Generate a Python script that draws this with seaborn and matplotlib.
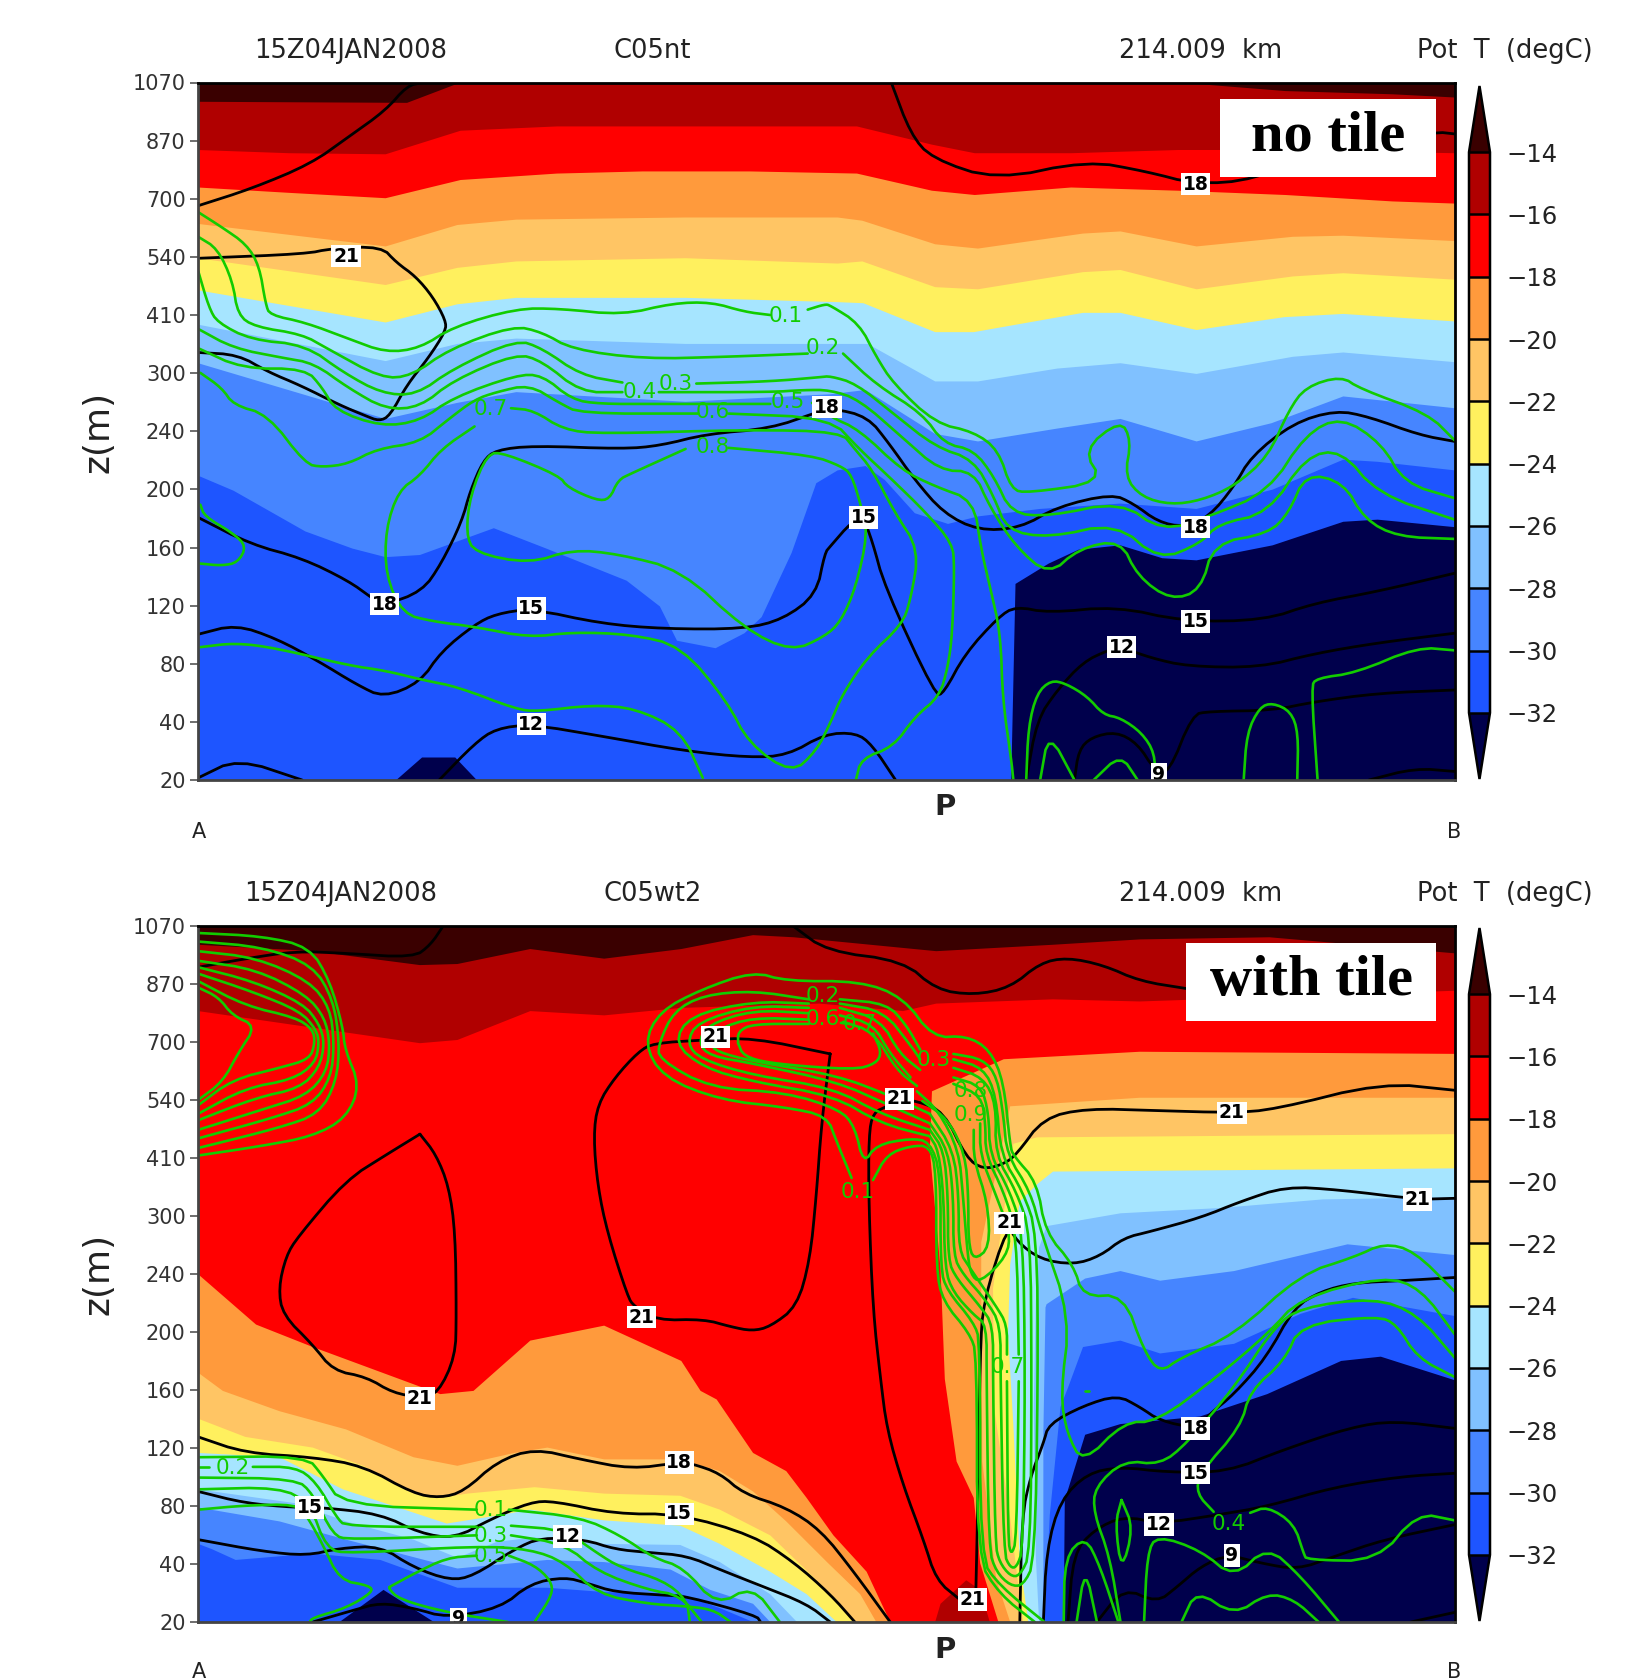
"""
Cross sections of potential temperature (filled), wind speed contours (black)
and cloud water (green) along A-B, without and with the tile scheme.
s = distance along the section, eta = stretched height coordinate.
"""

import matplotlib
matplotlib.use("Agg")
import matplotlib.pyplot as plt
from matplotlib.cm import ScalarMappable
from matplotlib.colors import BoundaryNorm, ListedColormap
from matplotlib.patches import Rectangle
import pandas as pd
import seaborn as sns

sns.set_style("white")

S_MAX = 1173
ETA_MAX = 651
LEVEL_STEP = 54.25

z_labels = ["20", "40", "80", "120", "160", "200", "240", "300", "410", "540", "700", "870", "1070"]
temp_levels = [-32, -30, -28, -26, -24, -22, -20, -18, -16, -14]
temp_colors = ["#00004c", "#1e55ff", "#4685ff", "#80c1ff", "#a6e5ff", "#fff05e",
               "#ffc564", "#ff9a3c", "#ff0000", "#b00000", "#3a0000"]

# ---- upper panel: isotherm heights
nt_m14 = [(0,633),(195,632),(245,651),(915,651),(1015,643),(1115,640),(1173,637)]
nt_m16 = [(0,588),(85,585),(175,584),(245,606),(335,610),(415,610),(515,610),(615,610),(685,593),(725,585),(815,585),(915,588),(1015,588),(1173,585)]
nt_m18 = [(0,553),(85,548),(175,543),(245,560),(335,566),(415,568),(515,568),(615,566),(685,550),(725,546),(815,553),(915,550),(1015,546),(1115,540),(1173,538)]
nt_m20 = [(0,519),(175,498),(242,518),(297,523),(455,525),(597,525),(620,522),(688,500),(728,496),(826,510),(861,512),(932,498),(1022,507),(1069,508),(1173,503)]
nt_m22 = [(0,487),(175,462),(242,478),(297,484),(455,487),(597,482),(620,484),(688,460),(728,458),(826,474),(861,476),(932,458),(1022,470),(1069,473),(1173,467)]
nt_m24 = [(0,457),(175,427),(242,444),(297,450),(455,450),(597,446),(621,445),(688,418),(724,418),(826,436),(861,436),(932,420),(1014,432),(1069,435),(1173,428)]
nt_m26 = [(0,425),(175,391),(242,407),(297,412),(455,407),(590,407),(625,407),(688,372),(728,372),(802,384),(861,389),(932,379),(1022,395),(1069,399),(1173,390)]
nt_m28 = [(0,389),(175,337),(242,352),(297,362),(455,353),(590,360),(623,364),(688,323),(728,316),(802,328),(861,337),(932,316),(1002,333),(1069,358),(1173,347)]
nt_m30 = [(0,284),(33,270),(100,232),(144,216),(175,208),(207,210),(276,235),(325,216),(400,186),(431,162),(447,130),(483,123),(510,137),(526,152),(554,212),(577,277),(597,289),(623,293),(641,280),(669,249),(700,239),(728,246),(786,253),(861,258),(932,253),(1003,271),(1069,299),(1101,297),(1173,289)]
nt_m32_a = [(185,0),(209,21),(240,21),(260,0)]
nt_m32_b = [(759,0),(763,183),(794,202),(822,215),(861,219),(900,207),(932,205),(1003,219),(1069,241),(1101,243),(1173,236)]

# ---- upper panel: black contours, None marks a gap for a label
nt_black = [
    [(0,536),(50,552),(105,575),(140,600),(175,625),(195,648),(210,651)],
    [(647,651),(665,603),(685,580),(745,560),(830,578),(885,568),(931,556),(985,560),(1060,590),(1155,605),(1173,603)],
    [(2,487),(100,491),(124,496),(171,498),(185,483),(203,470),(219,451),(231,429),(231,419),(215,394),(195,369),(179,340),(169,335),(156,340),(132,350),(96,368),(65,381),(37,397),(0,399)],
    [(0,245),(49,220),(97,207),(140,186),(162,170),(173,163),(209,176),(227,202),(246,241),(254,270),(266,298),(278,308),(313,312),(396,309),(431,312),(475,323),(534,328),(577,343),(592,347),(625,339),(645,314),(669,280),(696,249),(728,233),(767,235),(802,255),(853,267),(873,258),(896,241),(920,236),(944,246),(967,274),(983,302),(1022,333),(1062,345),(1093,339),(1140,322),(1173,316)],
    [(0,136),(35,145),(73,132),(112,111),(148,89),(173,77),(207,91),(227,120),(258,145),(278,155),(311,160),(376,146),(435,141),(510,141),(546,150),(577,173),(585,212),(590,218),(610,241),(621,244),(629,224),(641,180),(688,79),(696,81),(716,118),(747,152),(763,162),(794,156),(857,162),(920,148),(995,149),(1042,165),(1101,176),(1173,193)],
    [(225,0),(258,34),(278,48),(311,52),(376,41),(455,27),(514,21),(550,23),(585,43),(614,44),(629,33),(651,0)],
    [(0,2),(37,20),(97,0)],
    [(773,0),(783,56),(802,84),(826,110),(849,121),(862,124),(889,114),(924,106),(991,105),(1042,118),(1101,128),(1173,137)],
    [(818,0),(822,28),(834,40),(857,45),(877,34),(893,9),(906,6),(928,61),(944,64),(1003,65),(1042,73),(1101,81),(1173,84)],
    [(1093,0),(1136,11),(1173,8)],
]

# ---- upper panel: green contours
nt_green = [
    [(0,530),(22,516),(45,500),(57,480),(63,444),(67,434),(100,427),(140,412),(175,399),(207,403),(238,423),(297,440),(337,440),(396,434),(443,445),(479,446),(510,437),(534,434),None,(569,439),(585,444),(590,443),(617,426),(633,395),(649,370),(688,333),(724,325),(747,308),(759,271),(775,268),(845,278),(826,308),(861,336),(871,317),(865,283),(881,264),(908,257),(936,261),(967,274),(999,302),(1018,345),(1034,367),(1067,377),(1085,365),(1148,342),(1173,317)],
    [(0,507),(18,496),(32,466),(37,434),(53,423),(97,416),(120,403),(171,375),(199,377),(234,402),(294,424),(321,418),(349,402),(416,393),(494,395),(569,398),None,(602,398),(633,369),(676,342),(696,314),(724,308),(743,283),(759,249),(794,246),(861,260),(900,232),(944,246),(999,269),(1034,323),(1067,339),(1105,314),(1126,277),(1173,263)],
    [(0,475),(10,441),(18,427),(49,411),(100,406),(136,380),(171,361),(203,359),(238,384),(297,411),(321,403),(357,378),(396,371),None,(465,370),(534,372),(581,376),(590,377),(614,370),(649,342),(688,311),(724,299),(743,264),(755,233),(794,226),(857,240),(897,205),(936,221),(952,239),(999,249),(1034,302),(1067,308),(1101,267),(1173,243)],
    [(0,421),(33,403),(79,394),(108,389),(140,366),(175,346),(207,348),(238,373),(297,398),(321,391),(357,362),(396,362),None,(430,362),(534,362),(565,364),(590,364),(617,355),(657,320),(692,289),(724,288),(739,255),(763,218),(794,191),(822,216),(861,224),(877,190),(908,168),(936,177),(948,221),(999,230),(1018,249),(1034,286),(1069,278),(1089,243),(1120,227),(1173,225)],
    [(0,403),(41,384),(100,384),(116,366),(128,345),(171,330),(207,335),(238,357),(297,378),(321,378),(349,355),(375,351),(427,351),(534,351),None,(573,352),(590,339),(617,327),(657,289),(688,274),(724,261),(731,215),(739,181),(749,137),(751,75),(759,19),(761,0)],
    [(2,380),(22,366),(33,350),(65,341),(100,295),(116,292),(140,295),(167,309),(207,315),(234,337),(258,355),(278,362),(309,369),(337,352),(357,342),(467,342),None,(495,342),(590,338),(617,309),(645,283),(680,249),(704,221),(706,199),(704,137),(700,106),(692,78),(669,59),(649,31),(619,20),(614,0)],
    [(292,347),(313,345),(341,327),(376,323),(514,327),(600,325),(612,310),(629,290),(650,250),(673,215),(665,168),(657,145),(625,115),(602,81),(590,53),(577,27),(554,6),(514,34),(494,73),(451,125),(404,136),(349,138),(309,133),(258,143),(219,148),(191,155),(175,191),(175,234),(187,270),(207,284),(227,309),(258,330)],
    [(495,310),(573,303),(600,293),(610,285),(619,255),(625,230),(614,180),(600,148),(585,134),(554,120),(510,141),(451,196),(392,211),(349,215),(309,202),(258,212),(250,230),(254,266),(270,305),(286,305),(337,284),(345,273),(372,261),(384,262),(392,280),(404,286),(455,309)],
    [(2,257),(6,246),(33,230),(45,218),(37,203),(22,200),(2,202)],
    [(2,124),(35,128),(73,123),(140,107),(175,102),(211,93),(242,87),(297,66),(317,64),(368,70),(408,67),(451,46),(471,2)],
    [(773,0),(775,50),(783,81),(796,93),(810,90),(830,78),(845,61),(861,58),(881,44),(893,25),(893,0)],
    [(786,0),(794,45),(818,0)],
    [(836,0),(861,24),(877,0)],
    [(976,0),(979,44),(991,68),(1003,72),(1020,64),(1027,44),(1026,0)],
    [(1045,0),(1039,87),(1044,95),(1081,100),(1138,124),(1173,121)],
]

nt_black_labels = [(138,489,"21"),(174,164,"18"),(311,160,"15"),(311,52,"12"),(621,245,"15"),(587,348,"18"),
                   (931,556,"18"),(931,236,"18"),(931,148,"15"),(862,124,"12"),(897,5,"9")]
nt_green_labels = [(548,433,"0.1"),(583,403,"0.2"),(446,370,"0.3"),(412,362,"0.4"),(550,353,"0.5"),
                   (480,343,"0.6"),(273,346,"0.7"),(480,311,"0.8")]

# ---- lower panel: isotherm heights, warm air aloft
wt_m14 = [(0,633),(107,627),(207,614),(242,615),(310,629),(379,620),(451,629),(518,642),(556,640),(689,627),(798,633),(879,638),(1000,640),(1173,625)]
wt_m16 = [(0,571),(76,560),(207,541),(242,544),(310,571),(379,567),(451,574),(580,578),(658,571),(689,578),(798,582),(879,580),(1173,590)]
# left-hand cold pool
wtl_m18 = [(0,325),(54,278),(107,257),(226,213),(257,216),(310,263),(379,277),(451,244),(469,216),(484,208),(518,158),(549,141),(568,116),(593,81),(624,47),(646,0)]
wtl_m20 = [(0,233),(23,216),(76,197),(138,180),(201,154),(242,146),(295,158),(326,163),(379,152),(450,152),(487,141),(518,122),(549,94),(587,56),(618,26),(633,0)]
wtl_m22 = [(0,190),(44,173),(107,163),(154,146),(201,120),(226,116),(251,120),(314,126),(379,120),(450,118),(487,105),(534,81),(565,51),(596,21),(612,0)]
wtl_m24 = [(0,158),(76,154),(135,124),(232,92),(282,100),(310,105),(379,95),(450,90),(487,73),(534,47),(568,26),(596,0)]
wtl_m26 = [(0,124),(91,111),(138,94),(201,77),(242,60),(279,75),(314,79),(379,73),(450,72),(487,56),(534,26),(559,0)]
wtl_m28 = [(0,107),(76,94),(138,77),(242,50),(326,58),(379,56),(441,49),(478,30),(518,17),(534,0)]
wtl_m30 = [(0,73),(13,68),(35,58),(107,64),(170,58),(242,32),(326,32),(379,28),(451,26),(487,13),(518,0)]
wtl_m32 = [(132,0),(173,30),(220,0)]
# warm patch near the surface
wt_patch = [(688,0),(693,17),(717,39),(730,30),(739,0)]
# right-hand cold pool
wtr_m18 = [(1173,531),(879,533),(752,526),(685,496),(683,441),(693,330),(697,227),(708,150),(724,116),(730,55),(747,0)]
wtr_m20 = [(1173,490),(879,490),(758,482),(731,355),(731,312),(732,150),(745,40),(758,0)]
wtr_m22 = [(1173,456),(783,453),(761,447),(742,312),(743,200),(758,98),(764,47),(770,0)]
wtr_m24 = [(1173,424),(798,421),(783,409),(767,393),(758,334),(756,270),(761,184),(767,56),(775,0)]
wtr_m26 = [(1173,397),(1050,395),(955,387),(861,382),(792,370),(785,350),(782,300),(780,200),(782,60),(785,0)]
wtr_m28 = [(1173,343),(1073,353),(967,328),(898,319),(861,328),(828,321),(792,297),(791,294),(789,176),(789,0)]
wtr_m30 = [(1173,286),(1078,303),(1029,288),(967,260),(898,251),(861,263),(826,257),(812,219),(805,201),(795,100),(790,0)]
wtr_m32 = [(1173,226),(1104,248),(1067,244),(998,213),(935,192),(861,185),(828,175),(809,114),(808,0)]

# ---- lower panel: black contours
wt_black = [
    [(0,612),(44,620),(91,627),(138,625),(201,621),(217,633),(229,651)],
    [(207,456),(222,437),(234,407),(240,364),(241,287),(240,248),(224,214),(208,210),(182,214),(157,229),(126,235),(107,259),(79,287),(75,312),(82,342),(93,360),(138,413),(176,437),(207,456)],
    [(590,531),(518,546),(472,544),(425,541),(411,533),(389,509),(373,484),(369,454),(373,407),(382,364),(401,304),(407,295),(428,282),(472,283),(497,276),(517,272),(534,276),(559,295),(571,338),(577,398),(582,467),(590,531)],
    [(711,21),(689,39),(677,77),(658,128),(643,180),(637,227),(630,291),(626,390),(626,455),(630,476),(643,482),(655,488),(671,487),(696,477),(717,434),(733,423),(752,428),(764,437),(789,471),(829,480),(895,478),(965,476),(1005,479),(1105,504),(1173,497)],
    [(1173,396),(1138,395),(1065,404),(1015,407),(973,393),(936,378),(889,365),(864,359),(842,342),(817,334),(786,339),(764,356),(756,372),(733,300),(730,252),(728,120),(726,30)],
    [(767,0),(769,99),(777,136),(789,167),(794,185),(826,202),(858,212),(879,201),(898,188),(932,181),(945,195),(967,213),(997,247),(1023,294),(1048,309),(1079,317),(1123,319),(1173,322)],
    [(0,173),(44,158),(107,154),(154,146),(201,120),(226,116),(248,122),(279,150),(314,162),(357,152),(404,143),(449,149),(461,148),(487,139),(509,120),(549,107),(581,86),(612,47),(646,0)],
    [(0,122),(44,111),(91,107),(116,107),(170,101),(207,83),(239,78),(273,96),(310,112),(332,113),(389,101),(449,101),(518,81),(556,56),(590,26),(613,0)],
    [(0,77),(60,66),(101,62),(132,69),(170,71),(201,51),(235,39),(257,43),(295,68),(320,79),(361,77),(389,68),(420,65),(456,62),(487,49),(525,34),(568,17),(590,0)],
    [(107,0),(145,11),(170,18),(201,13),(232,4),(282,13),(310,36),(342,42),(364,36),(389,28),(436,25),(456,24),(521,6),(525,0)],
    [(556,650),(587,627),(658,618),(689,591),(724,586),(758,593),(786,616),(811,621),(845,614),(879,599),(923,592)],
    [(789,0),(792,68),(805,114),(830,139),(861,145),(904,140),(960,140),(1013,161),(1076,182),(1116,188),(1173,181)],
    [(812,0),(817,64),(836,86),(864,99),(898,92),(951,100),(998,108),(1060,126),(1123,136),(1173,139)],
    [(839,0),(864,32),(895,18),(914,33),(936,52),(961,63),(992,55),(1026,49),(1060,61),(1107,77),(1173,91)],
    [(1132,0),(1173,9)],
]

# ---- lower panel: green contours
wt_green = [
    # cloud at the left edge
    [(0,644),(60,641),(104,631),(123,599),(135,556),(137,535),(151,501),(138,471),(107,454),(60,445),(0,436)],
    [(0,636),(60,631),(107,614),(126,582),(132,541),(129,505),(113,475),(76,462),(0,443)],
    [(0,627),(54,621),(104,599),(123,574),(127,541),(124,509),(107,484),(69,471),(0,452)],
    [(0,618),(54,610),(101,586),(118,565),(123,541),(120,514),(101,492),(60,479),(0,460)],
    [(0,612),(51,599),(98,578),(113,559),(118,541),(113,518),(95,499),(54,490),(0,469)],
    [(0,606),(51,589),(95,571),(110,554),(113,541),(109,522),(88,507),(44,499),(0,475)],
    [(0,599),(44,576),(91,565),(107,554),(109,541),(104,526),(76,518),(32,507),(0,483)],
    [(0,593),(19,584),(32,567),(54,557),(38,533),(23,505),(0,488)],
    # cloud in the middle and the plume below it
    [(610,415),(596,449),(587,473),(549,481),(487,488),(434,509),(416,541),(431,571),(469,591),(518,608),(549,599),(618,599),(658,584),(686,546),(717,548),(739,535),(752,505),(758,445),(761,436),(783,411),(791,364),(817,334),(826,304),(864,306),(883,253),(898,233),(917,247),(967,268),(1029,325),(1079,341),(1107,354),(1135,347),(1173,309)],
    [(630,413),(643,437),(665,445),(683,445),(689,420),(689,330),(695,300),(720,270),(727,250),(727,60),(748,26),(781,0)],
    [(790,0),(748,34),(730,60),(730,262),(724,280),(699,310),(693,330),(693,420),(683,449),(665,452),(633,446),(621,428),(613,463),(599,479),(549,495),(478,499),(430,526),(430,541),(444,571),(472,586),(518,590),(570,582),None,(599,582),(643,578),(661,558),(674,535),None,(705,531),(733,526),(746,509),(752,471),(755,437),(777,402),(787,364),(814,285),(805,213),(811,176),(826,148),(864,187),(895,187),(951,229),(998,269),(1029,303),(1107,323),(1141,312),(1173,269)],
    [(683,454),(637,466),(593,492),(518,505),(472,518),(444,541),(459,567),(518,580),(570,578),None,(599,578),(640,571),(665,539),(674,526),None,(705,526),(733,518),(745,492),(749,437),(770,402),(783,364),(784,227),(781,56),(770,34),(758,34),(745,47),(738,68),(736,227),(736,278),(724,287),(705,308),(697,330),(696,398),(691,441),(683,454)],
    [(683,460),(637,475),(593,499),(518,511),(469,526),(456,541),(466,561),(518,576),(570,574),None,(599,574),(637,563),(655,531),(674,516),None,(705,518),(733,509),(745,484),(744,437),(764,402),(777,364),(778,227),(777,64),(767,43),(758,43),(748,56),(744,73),(742,227),(742,278),(730,295),(708,321),(700,338),(700,398),(696,441),(683,460)],
    [(683,466),(643,484),(596,505),(518,522),(478,529),(467,541),(475,558),(518,572),(570,569),None,(599,567),(630,559),(646,531),(665,509),None,(705,509),(731,501),(738,475),(739,437),(758,402),(770,364),(772,227),(770,68),(764,51),(758,51),(752,64),(749,227),(749,278),(736,300),(714,325),(705,342),(705,398),(700,441),(683,466)],
    [(683,475),(646,492),(596,511),(518,524),(484,533),(478,541),(484,554),(518,565),(570,563),None,(602,561),(630,552),(652,516),(671,501),None,(705,503),(731,492),(735,466),(735,437),(752,402),(764,364),(766,250),None,(766,225),(764,77),(759,62),(756,77),(755,225),None,(755,250),(755,278),(745,295),(721,330),(710,347),(710,398),(705,441),(683,475)],
    [(504,541),(509,529),(534,522),(612,516),(633,522),(638,533),(630,550),None,(608,559),(600,560),None,(570,559),(518,559),(504,552),(504,541)],
    [(730,466),(730,437),(745,398),(758,364),(755,342),(730,317),(721,325),(718,347),(714,398),(710,441),(691,478),(671,496)],
    [(724,460),(724,432),(737,392),(739,350),(724,338),(719,355),(719,398),(716,437),(700,470),(676,487)],
    # low cloud on the left
    [(0,154),(101,155),(116,137),(135,109),(260,105),None,(290,105),(357,98),(394,81),(425,60),(453,51),(484,15),(517,34),(543,0)],
    [(0,145),(10,145),None,(51,145),(91,145),(110,131),(129,98),(138,89),(260,89),None,(292,90),(342,86),(373,64),(394,51),(434,39),(456,21),(459,0)],
    [(0,135),(91,134),(107,120),(126,81),(141,77),(260,81),None,(292,81),(342,73),(373,47),(420,30),(450,25),(470,0)],
    [(0,124),(76,126),(104,111),(120,68),(141,64),(260,71),(310,68),(342,56),(373,26),(420,17),(451,15),(480,12),(497,0)],
    [(0,105),(44,109),(91,110),(101,100),(116,73),(132,39),(160,34),(163,28),(138,13),(107,4),(104,0)],
    [(289,0),(232,9),(188,21),(177,32),(181,34),(201,45),(232,60),(260,62),None,(290,62),(314,53),(329,39),(331,26),(314,0)],
    # low cloud on the right
    [(1173,247),(1138,288),(1098,303),(1029,294),(1004,275),(967,219),(923,167),(898,147),(864,151),(837,126),(836,102),(851,61),(861,0)],
    [(1173,229),(1138,247),(1119,278),(1101,286),(1029,278),(1014,244),(982,216),(973,182),(935,139),(932,120),(948,103),None,(982,102),(998,108),(1023,92),(1032,64),(1035,58),(1101,57),(1138,102),(1173,95)],
    [(883,0),(886,64),(895,81),(936,67),(967,41),(998,71),(1029,43),(1065,0)],
    [(918,0),(932,30),(967,6),(998,27),(1023,21),(1046,0)],
    [(808,0),(809,61),(828,80),(842,52),(859,0)],
    [(820,0),(828,52),(839,0)],
    [(862,114),(873,88),(862,47),(856,92),(862,114)],
    [(828,216),(832,216)],
]

wt_black_labels = [(207,209,"21"),(414,285,"21"),(483,547,"21"),(655,489,"21"),(757,373,"21"),(723,21,"21"),
                   (965,476,"21"),(1138,395,"21"),(449,149,"18"),(449,101,"15"),(104,107,"15"),(345,80,"12"),
                   (243,3,"9"),(931,181,"18"),(931,139,"15"),(897,91,"12"),(965,62,"9")]
wt_green_labels = [(273,105,"0.1"),(32,144,"0.2"),(273,80,"0.3"),(273,62,"0.5"),(583,585,"0.2"),(583,564,"0.6"),
                   (618,559,"0.7"),(687,525,"0.3"),(721,496,"0.8"),(721,474,"0.9"),(616,402,"0.1"),(756,238,"0.7"),
                   (962,92,"0.4")]


def fill_under(ax, pts, color):
    xs = [p[0] for p in pts] + [pts[-1][0], pts[0][0]]
    ys = [p[1] for p in pts] + [0, 0]
    ax.fill(xs, ys, color=color, lw=0, zorder=1)


def fill_over(ax, pts, color):
    xs = [p[0] for p in pts] + [pts[-1][0], pts[0][0]]
    ys = [p[1] for p in pts] + [ETA_MAX, ETA_MAX]
    ax.fill(xs, ys, color=color, lw=0, zorder=1)


def round_corners(seg):
    # the contours are drawn smoothed, so cut the corners of the polyline when drawing
    for _ in range(2):
        out = [seg[0]]
        for a, b in zip(seg[:-1], seg[1:]):
            out.append((0.75 * a[0] + 0.25 * b[0], 0.75 * a[1] + 0.25 * b[1]))
            out.append((0.25 * a[0] + 0.75 * b[0], 0.25 * a[1] + 0.75 * b[1]))
        out.append(seg[-1])
        seg = out
    return seg


def draw_curves(ax, curves, color, width, order):
    for curve in curves:
        seg = []
        for p in curve + [None]:
            if p is not None:
                seg.append(p)
                continue
            df = pd.DataFrame(round_corners(seg), columns=["s", "eta"])
            sns.lineplot(data=df, x="s", y="eta", sort=False, estimator=None, color=color,
                         linewidth=width, ax=ax, zorder=order, legend=False)
            seg = []


def dress_panel(ax, black_labels, green_labels, case_name, date_x, box, box_text, p_y, ab_y):
    for x, y, txt in black_labels:
        ax.text(x, y, txt, ha="center", va="center", fontsize=13.5, weight="bold", color="black", zorder=6,
                clip_on=True, bbox=dict(fc="white", ec="none", pad=1.2))
    for x, y, txt in green_labels:
        ax.text(x, y, txt, ha="center", va="center", fontsize=15.5, color="#12cc00", zorder=6)

    ax.add_patch(Rectangle((box[0], box[1]), box[2], box[3], fc="white", ec="none", zorder=7))
    ax.text(box[0] + box[2] / 2, box[1] + box[3] / 2 + 1, box_text, ha="center", va="center", zorder=8,
            family="Liberation Serif", weight="bold", fontsize=42, color="black")

    ax.set_xlim(0, S_MAX)
    ax.set_ylim(0, ETA_MAX)
    ax.set_xlabel("")
    ax.set_ylabel("")
    ax.set_xticks([])
    ax.set_yticks([i * LEVEL_STEP for i in range(13)])
    ax.set_yticklabels(z_labels, fontsize=15, color="#333333")
    ax.tick_params(axis="y", length=6, width=1.2, color="#555555", left=True, pad=3)
    for side, spine in ax.spines.items():
        spine.set_visible(True)
        spine.set_color("black" if side in ("top", "right") else "#444444")
        spine.set_linewidth(2)
        spine.set_zorder(9)

    head = dict(ha="center", va="center", fontsize=18.5, color="#222222", clip_on=False)
    ax.text(date_x, 680, "15Z04JAN2008", **head)
    ax.text(424, 680, case_name, **head)
    ax.text(936, 680, "214.009  km", **head)
    ax.text(1220, 680, "Pot  T  (degC)", **head)
    ax.text(-93, 325, "z(m)", rotation=90, ha="center", va="center", fontsize=26, color="#222222")
    ax.text(697, p_y, "P", ha="center", va="center", fontsize=21, weight="bold", color="#222222")
    ax.text(1, ab_y, "A", ha="center", va="center", fontsize=15, color="#222222")
    ax.text(1172, ab_y, "B", ha="center", va="center", fontsize=15, color="#222222")


def add_colorbar(fig, top_px, bottom_px):
    W, H = 1639, 1680
    cax = fig.add_axes([1469 / W, 1 - bottom_px / H, 21 / W, (bottom_px - top_px) / H])
    cmap = ListedColormap(temp_colors[1:-1])
    cmap.set_under(temp_colors[0])
    cmap.set_over(temp_colors[-1])
    sm = ScalarMappable(norm=BoundaryNorm(temp_levels, cmap.N), cmap=cmap)
    cb = fig.colorbar(sm, cax=cax, extend="both", extendfrac=0.118, drawedges=True,
                      spacing="uniform", ticks=temp_levels)
    cb.ax.set_yticklabels(["\u2212%d" % abs(v) for v in temp_levels], fontsize=17.5, color="#222222")
    cb.ax.tick_params(length=0, pad=12)
    cb.outline.set_linewidth(1.8)
    cb.outline.set_edgecolor("black")
    cb.dividers.set_color("black")
    cb.dividers.set_linewidth(1.8)


fig = plt.figure(figsize=(16.39, 16.80), dpi=100, facecolor="white")
W, H = 1639, 1680
ax_nt = fig.add_axes([198.2 / W, 1 - 780 / H, 1256.5 / W, 697.5 / H])
ax_wt = fig.add_axes([198.2 / W, 1 - 1622 / H, 1256.5 / W, 696.5 / H])

# upper panel, coldest layer painted last
ax_nt.set_facecolor(temp_colors[-1])
nt_layers = [nt_m14, nt_m16, nt_m18, nt_m20, nt_m22, nt_m24, nt_m26, nt_m28, nt_m30]
for pts, col in zip(nt_layers, temp_colors[-2:0:-1]):
    fill_under(ax_nt, pts, col)
fill_under(ax_nt, nt_m32_a, temp_colors[0])
fill_under(ax_nt, nt_m32_b, temp_colors[0])
draw_curves(ax_nt, nt_black, "black", 2.0, 3)
draw_curves(ax_nt, nt_green, "#12cc00", 1.9, 4)
dress_panel(ax_nt, nt_black_labels, nt_green_labels, "C05nt", 142, (954, 563, 202, 73), "no tile", -25, -49)

# lower panel
ax_wt.set_facecolor("#ff0000")
fill_over(ax_wt, wt_m16, temp_colors[9])
fill_over(ax_wt, wt_m14, temp_colors[10])
fill_under(ax_wt, wt_patch, temp_colors[9])
left_layers = [wtl_m18, wtl_m20, wtl_m22, wtl_m24, wtl_m26, wtl_m28, wtl_m30, wtl_m32]
right_layers = [wtr_m18, wtr_m20, wtr_m22, wtr_m24, wtr_m26, wtr_m28, wtr_m30, wtr_m32]
for pts_l, pts_r, col in zip(left_layers, right_layers, temp_colors[7::-1]):
    fill_under(ax_wt, pts_l, col)
    fill_under(ax_wt, pts_r, col)
draw_curves(ax_wt, wt_black, "black", 2.0, 3)
draw_curves(ax_wt, wt_green, "#12cc00", 1.9, 4)
dress_panel(ax_wt, wt_black_labels, wt_green_labels, "C05wt2", 133, (922, 562, 234, 73), "with tile", -26, -47)

add_colorbar(fig, 86, 779)
add_colorbar(fig, 928, 1621)

fig.savefig("out.png", dpi=100)
